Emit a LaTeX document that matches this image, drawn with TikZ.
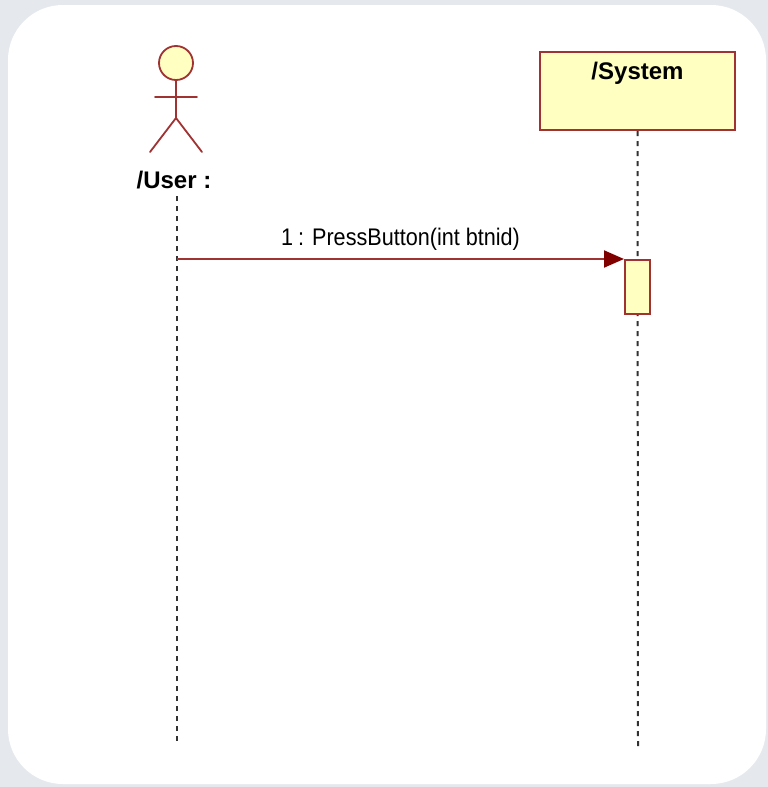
\documentclass[tikz,border=0pt]{standalone}
\usepackage{fontspec}
\setmainfont{Liberation Sans}
\newfontfamily\msgfont[FakeStretch=0.9]{Liberation Sans}
\usetikzlibrary{arrows.meta,positioning}
\definecolor{umlline}{RGB}{160,50,50}
\definecolor{umlfill}{RGB}{255,255,194}
\definecolor{umltip}{RGB}{128,0,0}
\definecolor{umlback}{RGB}{229,233,238}
\definecolor{lifegray}{RGB}{50,50,50}

\begin{document}
\begin{tikzpicture}[
      x=1pt,y=-1pt,
      actor/.style={draw=umlline,line width=1.8pt,line cap=round},
      objbox/.style={draw=umlline,fill=umlfill,line width=2pt},
      rolename/.style={font=\fontsize{24}{28}\selectfont\bfseries,inner sep=0pt},
      msg/.style={font=\msgfont\fontsize{24}{28}\selectfont,inner sep=0pt},
      lifeline/.style={draw=lifegray,line width=2pt,dash pattern=on 5pt off 5pt},
      call/.style={draw=umlline,line width=2pt,-{Triangle[length=20pt,width=17pt,fill=umltip,color=umltip]}}
    ]
    \useasboundingbox (0,0) rectangle (768,787);
    \fill[umlback] (0,0) rectangle (768,787);
    \fill[white,rounded corners=55pt] (8,5) rectangle (766,784);
    % actor
    \node [circle,actor,fill=umlfill,minimum size=34pt,inner sep=0pt] (head) at (176,63) {};
    \coordinate (neck) at (head.south);
    \coordinate (hip) at (176,118);
    \draw [actor] (neck) -- (hip);
    \draw [actor] (155,97) -- (197,97);
    \draw [actor] (150,152) -- (hip) -- (202,152);
    \node [rolename] (user) at (174,180) {/User :};
    % object
    \node [objbox,minimum width=195pt,minimum height=78pt] (sys) at (637.5,91) {};
    \node [rolename,below=11pt of sys.north] (syslbl) {/System};
    % lifelines
    \coordinate (userend) at (177,745);
    \coordinate (sysend) at (638,748);
    \draw [lifeline] (177,196) -- (userend);
    \draw [lifeline] (sys.south) -- (sysend);
    \node [objbox,minimum width=25pt,minimum height=54pt] (act) at (637.5,287) {};
    \draw [call] (act.north west -| userend) -- (act.north west)
      node [msg,midway,above=8pt] (call1) {1\kern-1pt{} : PressButton(int btnid)};
  \end{tikzpicture}
\end{document}
